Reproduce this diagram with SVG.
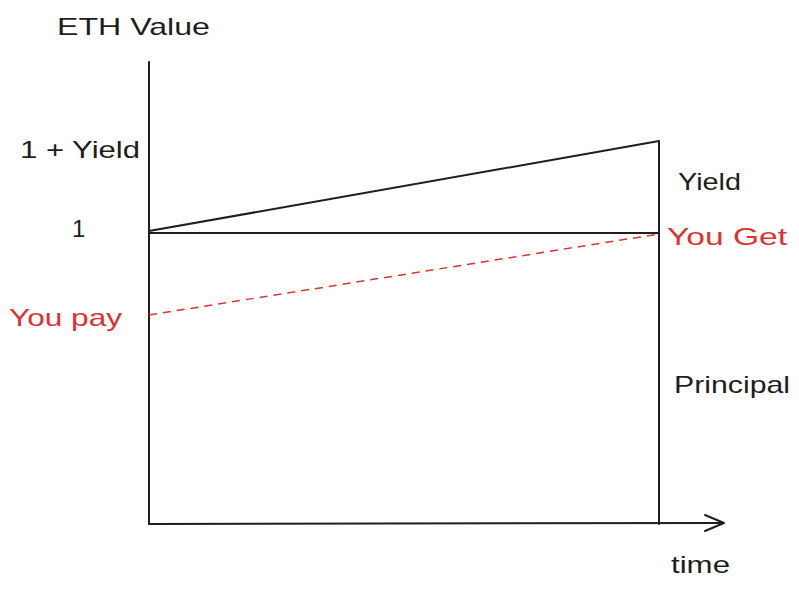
<svg xmlns="http://www.w3.org/2000/svg" width="799" height="592" viewBox="0 0 799 592">
<style>
.ln{stroke:#1e1e1e;stroke-width:2;fill:none;stroke-linecap:round;stroke-linejoin:round}
.rd{stroke:#e03131;stroke-width:1.5;fill:none;stroke-dasharray:8 6}
.t{font-family:"Liberation Sans",Arial,sans-serif;font-size:24px;fill:#1e1e1e}
.r{fill:#e03131}
</style>
<rect width="799" height="592" fill="#ffffff"/>
<g id="connectors">
<path class="ln" d="M149,62 L149,524"/>
<path class="ln" d="M149,524 L723,523"/>
<path class="ln" d="M705,515 L724,523 L705,531"/>
<path class="ln" d="M659,142 L659,524"/>
<path class="ln" d="M149,233 L659,233"/>
<path class="ln" d="M149,231 L659,141"/>
<path class="rd" d="M149,315 L659,234"/>
</g>
<g id="label-eth-value"><text class="t" x="57" y="35" textLength="153" lengthAdjust="spacingAndGlyphs">ETH Value</text></g>
<g id="label-1-yield"><text class="t" x="20" y="158" textLength="120" lengthAdjust="spacingAndGlyphs">1 + Yield</text></g>
<g id="label-1"><text class="t" x="72" y="237">1</text></g>
<g id="label-yield"><text class="t" x="678" y="190" textLength="63" lengthAdjust="spacingAndGlyphs">Yield</text></g>
<g id="label-you-get"><text class="t r" x="667" y="245" textLength="120" lengthAdjust="spacingAndGlyphs">You Get</text></g>
<g id="label-you-pay"><text class="t r" x="9" y="326" textLength="113" lengthAdjust="spacingAndGlyphs">You pay</text></g>
<g id="label-principal"><text class="t" x="674" y="393" textLength="116" lengthAdjust="spacingAndGlyphs">Principal</text></g>
<g id="label-time"><text class="t" x="671" y="573" textLength="59" lengthAdjust="spacingAndGlyphs">time</text></g>
</svg>
